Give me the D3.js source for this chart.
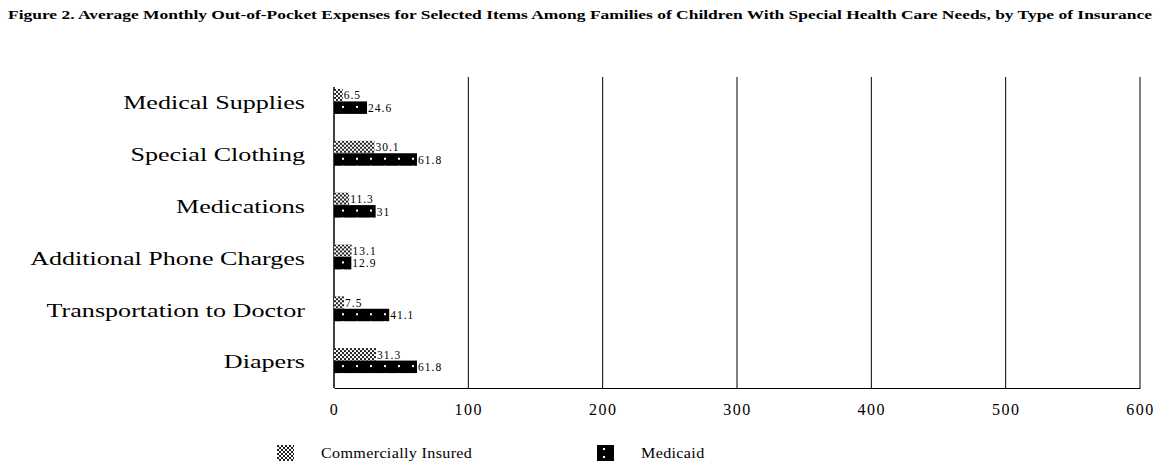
<!DOCTYPE html>
<html>
<head>
<meta charset="utf-8">
<script src="https://cdn.jsdelivr.net/npm/d3@7"></script>
<style>
  body { margin: 0; background: #fff; }
  text { font-family: "Liberation Serif", "DejaVu Serif", serif; fill: #000; }
</style>
</head>
<body>
<div id="chart"></div>
<script>
// data
const categories = ["Medical Supplies", "Special Clothing", "Medications",
  "Additional Phone Charges", "Transportation to Doctor", "Diapers"];
const commercial = [6.5, 30.1, 11.3, 13.1, 7.5, 31.3];
const medicaid = [24.6, 61.8, 31, 12.9, 41.1, 61.8];
const seriesNames = ["Commercially Insured", "Medicaid"];
const xTicks = [0, 100, 200, 300, 400, 500, 600];
const title = "Figure 2. Average Monthly Out-of-Pocket Expenses for Selected Items Among Families of Children With Special Health Care Needs, by Type of Insurance";

const W = 1164, H = 469;
const margin = { top: 77, right: 24, bottom: 81, left: 334 };

const svg = d3.select("#chart").append("svg")
  .attr("width", W).attr("height", H);

// fill patterns
const defs = svg.append("defs");
const pc = defs.append("pattern").attr("id", "pat-c")
  .attr("patternUnits", "userSpaceOnUse").attr("width", 4).attr("height", 4);
pc.append("rect").attr("width", 4).attr("height", 4).attr("fill", "#fff");
pc.append("rect").attr("width", 2).attr("height", 2).attr("fill", "#222");
pc.append("rect").attr("x", 2).attr("y", 2).attr("width", 2).attr("height", 2).attr("fill", "#222");
const pm = defs.append("pattern").attr("id", "pat-m")
  .attr("patternUnits", "userSpaceOnUse").attr("width", 14).attr("height", 8);
pm.append("rect").attr("width", 14).attr("height", 8).attr("fill", "#000");
pm.append("rect").attr("x", 6).attr("y", 3).attr("width", 2).attr("height", 2).attr("fill", "#fff");

const x = d3.scaleLinear().domain([0, 600]).range([margin.left, W - margin.right]);
const y = d3.scaleBand().domain(categories).range([margin.top, H - margin.bottom]);
const sub = d3.scaleBand().domain(seriesNames).range([-14, 11]);

// title
svg.append("text")
  .attr("x", 8).attr("y", 19)
  .attr("textLength", 1144).attr("lengthAdjust", "spacingAndGlyphs")
  .style("font-size", "13px").style("font-weight", "bold")
  .text(title);

// grid lines
svg.append("g").selectAll("line")
  .data(xTicks.filter(d => d > 0))
  .join("line")
    .attr("x1", d => x(d)).attr("x2", d => x(d))
    .attr("y1", margin.top).attr("y2", H - margin.bottom)
    .attr("stroke", "#000").attr("stroke-width", 1);

// x axis
const xAxis = svg.append("g")
  .attr("transform", `translate(0,${H - margin.bottom})`)
  .call(d3.axisBottom(x).tickValues(xTicks).tickSize(0).tickPadding(16));
xAxis.select(".domain").attr("stroke", "#000");
xAxis.selectAll("text")
  .style("font-family", "Liberation Serif, serif")
  .style("font-size", "16px").style("letter-spacing", "1.5px");

// y axis line
svg.append("line")
  .attr("x1", x(0)).attr("x2", x(0))
  .attr("y1", margin.top + 10).attr("y2", H - margin.bottom)
  .attr("stroke", "#000").attr("stroke-width", 1.5);

// category labels (wide face in the original, so stretch them)
svg.append("g").selectAll("text")
  .data(categories)
  .join("text")
    .attr("transform", d => `translate(305,${y(d) + y.bandwidth() / 2}) scale(1.45,1)`)
    .attr("dy", "0.35em")
    .attr("text-anchor", "end")
    .style("font-size", "18px")
    .text(d => d);

// bars
const rows = categories.map((c, i) => ({ cat: c, vals: [commercial[i], medicaid[i]] }));
const groups = svg.append("g").selectAll("g")
  .data(rows)
  .join("g")
    .attr("transform", d => `translate(0,${y(d.cat) + y.bandwidth() / 2})`);

groups.selectAll("rect")
  .data(d => d.vals.map((v, j) => ({ s: seriesNames[j], v })))
  .join("rect")
    .attr("x", x(0))
    .attr("y", d => sub(d.s))
    .attr("width", d => x(d.v) - x(0))
    .attr("height", sub.bandwidth())
    .attr("fill", (d, j) => j === 0 ? "url(#pat-c)" : "url(#pat-m)");

groups.selectAll("text")
  .data(d => d.vals.map((v, j) => ({ s: seriesNames[j], v })))
  .join("text")
    .attr("x", d => x(d.v) + 1)
    .attr("y", d => sub(d.s) + sub.bandwidth() - 2)
    .style("font-size", "11.5px").style("letter-spacing", "1px")
    .text(d => d.v);

// legend
const legend = svg.append("g").selectAll("g")
  .data(seriesNames)
  .join("g")
    .attr("transform", (d, i) => `translate(${[277, 597][i]},445)`);
legend.append("rect")
  .attr("width", 17).attr("height", 16)
  .attr("fill", (d, i) => i === 0 ? "url(#pat-c)" : "url(#pat-m)");
legend.append("text")
  .attr("transform", "translate(44,13) scale(1.15,1)")
  .style("font-size", "14px").style("letter-spacing", "0.3px")
  .text(d => d);
</script>
</body>
</html>
